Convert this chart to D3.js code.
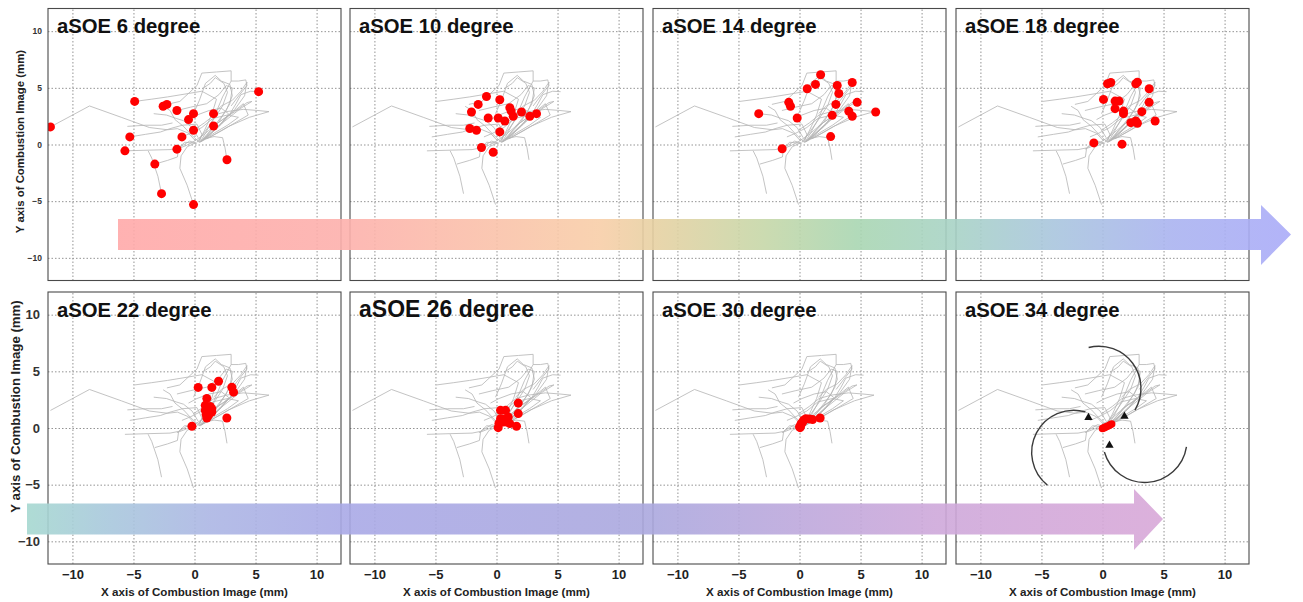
<!DOCTYPE html>
<html>
<head>
<meta charset="utf-8">
<script src="https://cdn.jsdelivr.net/npm/d3@7"></script>
<style>
  body { margin: 0; background: #fff; }
  text { font-family: "Liberation Sans", Arial, sans-serif; font-weight: bold; }
</style>
</head>
<body>
<script>
// aSOE angles shown in the 8 panels
const angles = [6, 10, 14, 18, 22, 26, 30, 34];

// red points (flame centre) per aSOE angle, mm
const dots6 = [[-11.8,1.55],[-4.9,3.8],[-5.3,0.67],[-5.7,-0.56],[-2.57,3.37],[-2.26,3.54],[-1.44,3.0],[-0.49,2.2],[-0.08,2.72],[-0.08,1.26],[-1.03,0.67],[-1.44,-0.41],[-3.25,-1.73],[-2.7,-4.34],[-0.08,-5.3],[1.56,2.72],[1.56,1.63],[2.66,-1.35],[5.25,4.66]];
const dots10 = [[-0.82,4.24],[0.27,3.95],[-1.5,3.54],[-2.05,2.87],[1.09,3.25],[1.2,2.95],[2.05,2.87],[-0.68,2.34],[0.14,2.34],[0.68,2.07],[1.37,2.49],[2.73,2.49],[3.28,2.72],[-2.19,1.41],[-1.64,1.26],[0.27,1.11],[-1.23,-0.26],[-0.27,-0.68]];
const dots14 = [[1.73,6.15],[1.31,5.3],[0.63,4.92],[3.09,5.21],[4.32,5.47],[3.22,4.5],[4.72,3.72],[2.98,3.54],[-0.88,3.72],[-0.74,3.37],[-3.34,2.72],[-0.19,2.34],[2.68,2.57],[4.04,2.93],[4.32,2.49],[6.24,2.87],[2.55,0.7],[-1.42,-0.38]];
const dots18 = [[0.41,5.36],[0.68,5.47],[2.73,5.36],[2.86,5.5],[3.82,4.92],[0.08,3.98],[1.03,3.83],[1.36,3.83],[3.82,3.72],[1.03,3.16],[1.72,2.95],[1.72,2.72],[3.22,2.9],[2.32,1.93],[2.73,2.07],[2.86,1.87],[4.31,2.07],[-0.71,0.14],[1.6,0.03]];
const dots22 = [[-0.21,0.15],[0.3,3.58],[1.42,3.58],[1.97,4.13],[3.06,3.6],[3.2,3.16],[1.01,2.61],[0.88,2.0],[1.29,1.9],[0.88,1.56],[1.42,1.41],[1.15,1.12],[1.01,0.88],[1.42,1.7],[2.65,0.88],[1.2,1.3],[0.95,1.2]];
const dots26 = [[1.78,2.2],[0.33,1.56],[0.74,1.56],[1.78,1.27],[0.33,0.82],[0.96,0.97],[0.55,0.53],[0.82,0.53],[0.14,0.03],[1.64,0.15],[1.09,0.39],[0.6,0.8],[0.2,0.4]];
const dots30 = [[0.05,0.03],[0.13,0.39],[0.33,0.68],[0.52,0.82],[1.07,0.74],[1.69,0.88],[0.1,0.2],[0.25,0.5],[0.0,0.1],[0.8,0.8]];
const dots34 = [[0.0,-0.05],[0.15,0.03],[0.3,0.1],[0.45,0.18],[0.6,0.27],[0.75,0.35]];
const dotSets = [dots6, dots10, dots14, dots18, dots22, dots26, dots30, dots34];

// gray trajectories of the flame centre (same in every panel)
const traces = [
  [[-11.8,1.55],[-8.6,3.4],[-6,2.4],[-3.7,1.5],[-2.2,1.3],[-1.4,1.4],[-0.5,1.0],[0.1,0.3]],
  [[-4.9,3.8],[-3.5,4.0],[-2.2,4.2],[-0.5,4.5],[0.6,4.7],[1.8,4.0],[1.4,2.6],[0.8,1.2],[0.3,0.2]],
  [[-5.7,-0.56],[-3.8,-0.5],[-2.0,-0.45],[-1.3,-0.3],[-0.8,0.2],[0.1,0.1]],
  [[-5.3,0.67],[-4.0,0.9],[-2.8,1.1],[-2.0,1.4],[-1.0,1.7],[0.2,1.8],[0.6,0.9],[0.4,0.2]],
  [[-2.7,-4.34],[-3.0,-2.8],[-3.5,-1.2],[-3.8,-0.55]],
  [[-3.25,-1.73],[-2.2,-1.4],[-1.4,-1.1],[-1.3,-0.3],[-0.4,0.3],[0.2,0.1]],
  [[-0.08,-5.3],[-0.6,-3.6],[-1.2,-2.1],[-1.1,-1.0],[-0.6,-0.2],[0.0,0.1]],
  [[-2.57,3.37],[-2.0,3.0],[-1.6,2.2],[-0.9,1.6],[-0.3,0.9],[0.3,0.3]],
  [[-2.26,3.54],[-1.2,3.8],[0.2,5.2],[0.6,6.3],[1.8,6.4],[3.0,6.5],[3.0,5.6],[2.3,4.2],[1.6,2.4],[0.9,1.0],[0.5,0.3]],
  [[-1.44,3.0],[-0.3,3.3],[1.0,3.6],[2.0,4.4],[2.6,5.2],[3.1,5.0],[2.9,3.6],[2.0,2.0],[1.0,0.8],[0.5,0.2]],
  [[-0.49,2.2],[0.2,2.6],[1.2,3.0],[2.2,3.2],[2.8,2.7],[2.0,1.6],[1.1,0.7],[0.4,0.2]],
  [[-0.08,2.72],[0.4,3.9],[0.9,5.4],[1.7,6.1],[2.2,5.6],[2.9,5.3],[3.1,4.3],[2.6,3.0],[1.6,1.6],[0.7,0.5]],
  [[-0.08,1.26],[0.8,1.9],[1.6,2.6],[2.6,2.9],[4.0,3.1],[5.2,3.0],[6.1,2.9],[4.5,2.4],[2.8,1.6],[1.5,0.8],[0.6,0.3]],
  [[-1.03,0.67],[-0.3,1.0],[0.6,1.5],[1.5,2.3],[2.7,2.6],[3.6,2.4],[2.7,1.7],[1.6,1.0],[0.6,0.3]],
  [[-1.44,-0.41],[-0.7,-0.1],[0.0,0.3],[0.8,0.9],[1.9,1.9],[3.3,2.9],[4.3,3.7],[4.7,3.8],[3.8,3.2],[2.4,2.0],[1.2,0.9],[0.4,0.2]],
  [[1.56,2.72],[2.2,3.4],[3.1,3.9],[3.8,4.7],[4.3,5.5],[4.1,4.3],[3.3,3.1],[2.1,1.8],[1.0,0.7],[0.5,0.2]],
  [[1.56,1.63],[2.3,2.2],[3.2,2.9],[4.0,3.6],[4.4,2.6],[3.3,1.9],[2.2,1.2],[1.0,0.5]],
  [[2.66,-1.35],[2.5,-0.3],[2.3,0.6],[1.6,0.7],[0.8,0.5]],
  [[5.25,4.66],[4.6,4.7],[3.8,4.4],[3.4,3.6],[2.9,2.7],[2.2,1.8],[1.4,1.0],[0.7,0.4]],
  [[-3.34,2.72],[-2.3,2.6],[-1.5,2.3],[-0.9,2.1],[-0.2,1.5],[0.3,0.6]],
  [[0.63,4.92],[1.3,5.4],[1.7,5.9],[2.4,5.4],[2.7,4.6],[2.3,3.4],[1.5,2.1],[0.7,0.9],[0.2,0.2]],
  [[3.0,5.6],[3.6,5.6],[4.2,5.7],[4.3,5.2],[3.7,4.4],[3.0,3.4]],
  [[-5.5,1.6],[-4.0,1.7],[-2.7,1.7],[-1.8,1.9]]
];

const tickValues = [-10, -5, 0, 5, 10];

// rotating arrows in the last panel: centre (mm), start/end angle (deg), direction
const swirlArcs = [
  { c: [-0.3, 3.5], a0: -104, a1: 31, ccw: false },
  { c: [-2.35, -2.15], a0: -74, a1: -231, ccw: true },
  { c: [3.47, -1.09], a0: 9, a1: 164, ccw: false }
];
const swirlHeads = [[1.8, 1.03], [-1.15, 0.92], [0.57, -1.53]];

// gradient band colours
const topBandStops = [[0, "#ffa9a9"], [0.19, "#fdb0ac"], [0.41, "#f8cea8"], [0.46, "#e6d1a2"], [0.55, "#c6d7a8"], [0.63, "#a9d6b2"], [0.71, "#a8d3c5"], [0.8, "#a9c5de"], [0.9, "#aab3f0"], [1, "#aaabf8"]];
const bottomBandStops = [[0, "#a6d8d0"], [0.07, "#a8c8dc"], [0.16, "#acb6e4"], [0.28, "#a9a9e6"], [0.55, "#aba8de"], [0.8, "#cea8da"], [1, "#d8a8d8"]];

const W = 1303, H = 602;
const PW = 293, PH = 272;
const colX = [48, 350, 653, 956];
const rowY = [8.5, 292];

const svg = d3.select("body").append("svg")
  .attr("width", W)
  .attr("height", H);

const defs = svg.append("defs");

const line = (x, y) => d3.line().x(d => x(d[0])).y(d => y(d[1]));

angles.forEach((ang, i) => {
  const col = i % 4, row = Math.floor(i / 4);
  const x = d3.scaleLinear().domain([-12, 12]).range([0, PW]);
  const y = d3.scaleLinear().domain([-12, 12]).range([PH, 0]);

  const g = svg.append("g")
    .attr("transform", `translate(${colX[col]},${rowY[row]})`);

  defs.append("clipPath").attr("id", "clip" + i)
    .append("rect").attr("width", PW).attr("height", PH);

  // GRID
  const gx = g.append("g")
    .attr("transform", `translate(0,${PH})`)
    .call(d3.axisBottom(x).tickValues(tickValues).tickSize(-PH).tickFormat(""));
  const gy = g.append("g")
    .call(d3.axisLeft(y).tickValues(tickValues).tickSize(-PW).tickFormat(""));
  [gx, gy].forEach(a => {
    a.select(".domain").remove();
    a.selectAll("line")
      .attr("stroke", "#939393")
      .attr("stroke-width", 1)
      .attr("stroke-dasharray", "1.5,2");
  });

  const plot = g.append("g").attr("clip-path", `url(#clip${i})`);

  // TRACES
  plot.append("g")
    .attr("fill", "none")
    .attr("stroke", "#b4b4b4")
    .attr("stroke-width", 0.8)
    .selectAll("path")
    .data(traces)
    .join("path")
    .attr("d", line(x, y));

  // RED POINTS
  plot.append("g")
    .attr("fill", "#ff0000")
    .selectAll("circle")
    .data(dotSets[i])
    .join("circle")
    .attr("cx", d => x(d[0]))
    .attr("cy", d => y(d[1]))
    .attr("r", ang === 34 ? 3.8 : 4.5);

  // SWIRL ARROWS (last panel)
  if (ang === 34) {
    const kx = x(1) - x(0);
    swirlArcs.forEach(s => {
      const p = d3.path();
      const a0 = s.a0 * Math.PI / 180, a1 = s.a1 * Math.PI / 180;
      const r = 3.45 * kx;
      const cx = x(s.c[0]), cy = y(s.c[1]);
      p.moveTo(cx + r * Math.cos(a0), cy + r * Math.sin(a0));
      p.arc(cx, cy, r, a0, a1, s.ccw);
      g.append("path")
        .attr("d", p.toString())
        .attr("fill", "none")
        .attr("stroke", "#3a3a3a")
        .attr("stroke-width", 1.4);
    });
    g.append("g")
      .selectAll("path")
      .data(swirlHeads)
      .join("path")
      .attr("transform", d => `translate(${x(d[0])},${y(d[1])})`)
      .attr("d", d3.symbol(d3.symbolTriangle, 30))
      .attr("fill", "#111");
  }

  // FRAME
  g.append("rect")
    .attr("width", PW)
    .attr("height", PH)
    .attr("fill", "none")
    .attr("stroke", "#4a4a4a")
    .attr("stroke-width", 1.1);

  // TITLE
  g.append("text")
    .attr("x", 9)
    .attr("y", row === 0 ? 24 : 25)
    .attr("font-size", ang === 26 ? 23 : 20.3)
    .attr("fill", "#111")
    .text(`aSOE ${ang} degree`);

  // AXES LABELS
  if (col === 0) {
    const ay = g.append("g")
      .call(d3.axisLeft(y).tickValues(tickValues).tickSize(0).tickPadding(row === 0 ? 6 : 8));
    ay.select(".domain").remove();
    ay.selectAll("text")
      .attr("font-size", row === 0 ? 8.5 : 13)
      .attr("font-family", "'Liberation Sans', Arial, sans-serif")
      .attr("font-weight", "bold")
      .attr("fill", "#333");

    g.append("text")
      .attr("transform", row === 0
        ? `translate(${20 - colX[0] + 4},${141.5 - rowY[0]}) rotate(-90)`
        : `translate(${15 - colX[0] + 4.5},${406.5 - rowY[1]}) rotate(-90)`)
      .attr("text-anchor", "middle")
      .attr("font-size", row === 0 ? 11.4 : 13.2)
      .attr("fill", "#222")
      .text("Y axis of Combustion Image (mm)");
  }
  if (row === 1) {
    const ax = g.append("g")
      .attr("transform", `translate(0,${PH})`)
      .call(d3.axisBottom(x).tickValues(tickValues).tickSize(0).tickPadding(6));
    ax.select(".domain").remove();
    ax.selectAll("text")
      .attr("font-size", 13)
      .attr("font-family", "'Liberation Sans', Arial, sans-serif")
      .attr("font-weight", "bold")
      .attr("fill", "#222");

    g.append("text")
      .attr("x", x(0))
      .attr("y", PH + 32)
      .attr("text-anchor", "middle")
      .attr("font-size", 11.6)
      .attr("fill", "#222")
      .text("X axis of Combustion Image (mm)");
  }
});

// GRADIENT BANDS
function band(id, stops, x0, x1, yTop, yBot, headX, headTop, headBot) {
  const grad = defs.append("linearGradient")
    .attr("id", id)
    .attr("gradientUnits", "userSpaceOnUse")
    .attr("x1", x0).attr("x2", x1).attr("y1", 0).attr("y2", 0);
  grad.selectAll("stop")
    .data(stops)
    .join("stop")
    .attr("offset", d => d[0])
    .attr("stop-color", d => d[1]);
  const yMid = (yTop + yBot) / 2;
  const p = d3.path();
  p.moveTo(x0, yTop);
  p.lineTo(headX, yTop);
  p.lineTo(headX, headTop);
  p.lineTo(x1, yMid);
  p.lineTo(headX, headBot);
  p.lineTo(headX, yBot);
  p.lineTo(x0, yBot);
  p.closePath();
  svg.append("path")
    .attr("d", p.toString())
    .attr("fill", `url(#${id})`)
    .attr("opacity", 0.9);
}

band("bandTop", topBandStops, 118, 1291, 219, 250, 1261, 205, 265);
band("bandBottom", bottomBandStops, 27, 1163, 503.5, 534.5, 1134, 489, 550);
</script>
</body>
</html>
